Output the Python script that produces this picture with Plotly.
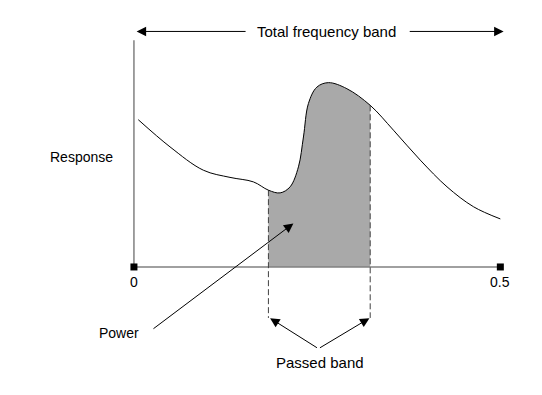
import plotly.graph_objects as go

# Response curve (frequency 0..0.5, normalized response)
freq = [0.0059, 0.0492, 0.0947, 0.1311, 0.1630, 0.1835, 0.1995, 0.2131, 0.2245,
        0.2313, 0.2381, 0.2496, 0.2654, 0.2906, 0.3224, 0.3542, 0.3907, 0.4272,
        0.4635, 0.5000]
response = [0.656, 0.535, 0.431, 0.399, 0.379, 0.342, 0.330, 0.357, 0.446,
            0.579, 0.728, 0.801, 0.821, 0.794, 0.720, 0.609, 0.476, 0.357,
            0.268, 0.214]

band_lo, band_hi = 0.1835, 0.3224
axis_x = [0.0, 0.5]
tick_labels = ["0", "0.5"]

FONT = "Liberation Sans, Arial, sans-serif"

band_x = [f for f in freq if band_lo <= f <= band_hi]
band_y = [r for f, r in zip(freq, response) if band_lo <= f <= band_hi]

fig = go.Figure()

# shaded passed band
fig.add_trace(go.Scatter(x=band_x, y=band_y, mode="lines", line=dict(color="rgba(0,0,0,0)", shape="spline", width=0),
                         fill="tozeroy", fillcolor="#a9a9a9", hoverinfo="skip", showlegend=False))

# axes lines
fig.add_trace(go.Scatter(x=[0, 0], y=[0, 1.01], mode="lines", line=dict(color="#808080", width=1.5),
                         showlegend=False, hoverinfo="skip"))
fig.add_trace(go.Scatter(x=axis_x, y=[0, 0], mode="lines", line=dict(color="#808080", width=1.5),
                         showlegend=False, hoverinfo="skip"))

# dashed band edges
ybot = -0.227
for xb, yb in [(band_lo, response[freq.index(band_lo)]), (band_hi, response[freq.index(band_hi)])]:
    fig.add_trace(go.Scatter(x=[xb, xb], y=[yb, ybot], mode="lines",
                             line=dict(color="#404040", width=1, dash="6px,3px"),
                             showlegend=False, hoverinfo="skip"))

# response curve
fig.add_trace(go.Scatter(x=freq, y=response, mode="lines", line=dict(color="black", width=1, shape="spline"),
                         showlegend=False, hoverinfo="skip"))

# end markers
fig.add_trace(go.Scatter(x=axis_x, y=[0, 0], mode="markers", marker=dict(symbol="square", size=7, color="black"),
                         cliponaxis=False, showlegend=False, hoverinfo="skip"))

ann = []
def label(text, x, y, size=15):
    ann.append(dict(text=text, x=x, y=y, xref="x", yref="y", showarrow=False,
                    font=dict(family=FONT, size=size, color="black"), xanchor="center", yanchor="middle"))

def arrow(hx, hy, tx, ty):
    ann.append(dict(text="", x=hx, y=hy, ax=tx, ay=ty, xref="x", yref="y", axref="x", ayref="y",
                    showarrow=True, arrowhead=2, arrowsize=1.9, arrowwidth=1, arrowcolor="black"))

label("Total frequency band", 0.2623, 1.049)
label("Response", -0.0716, 0.489, 14)
label("Power", -0.0205, -0.293, 14)
label("Passed band", 0.2541, -0.427)
for xv, t in zip(axis_x, tick_labels):
    label(t, xv, -0.067, 14)

arrow(0.0037, 1.049, 0.1544, 1.049)
arrow(0.5045, 1.049, 0.3743, 1.049)
arrow(0.2176, 0.194, 0.0246, -0.28)
arrow(0.1858, -0.228, 0.2518, -0.364)
arrow(0.3214, -0.228, 0.2518, -0.364)

fig.update_layout(
    width=534, height=387,
    margin=dict(l=38.16, r=27.36, t=11.5, b=26.75, autoexpand=False),
    paper_bgcolor="white", plot_bgcolor="white",
    xaxis=dict(range=[-0.12, 0.52], visible=False),
    yaxis=dict(range=[-0.45, 1.1], visible=False),
    annotations=ann,
    showlegend=False,
)

fig.write_html("out.html")
